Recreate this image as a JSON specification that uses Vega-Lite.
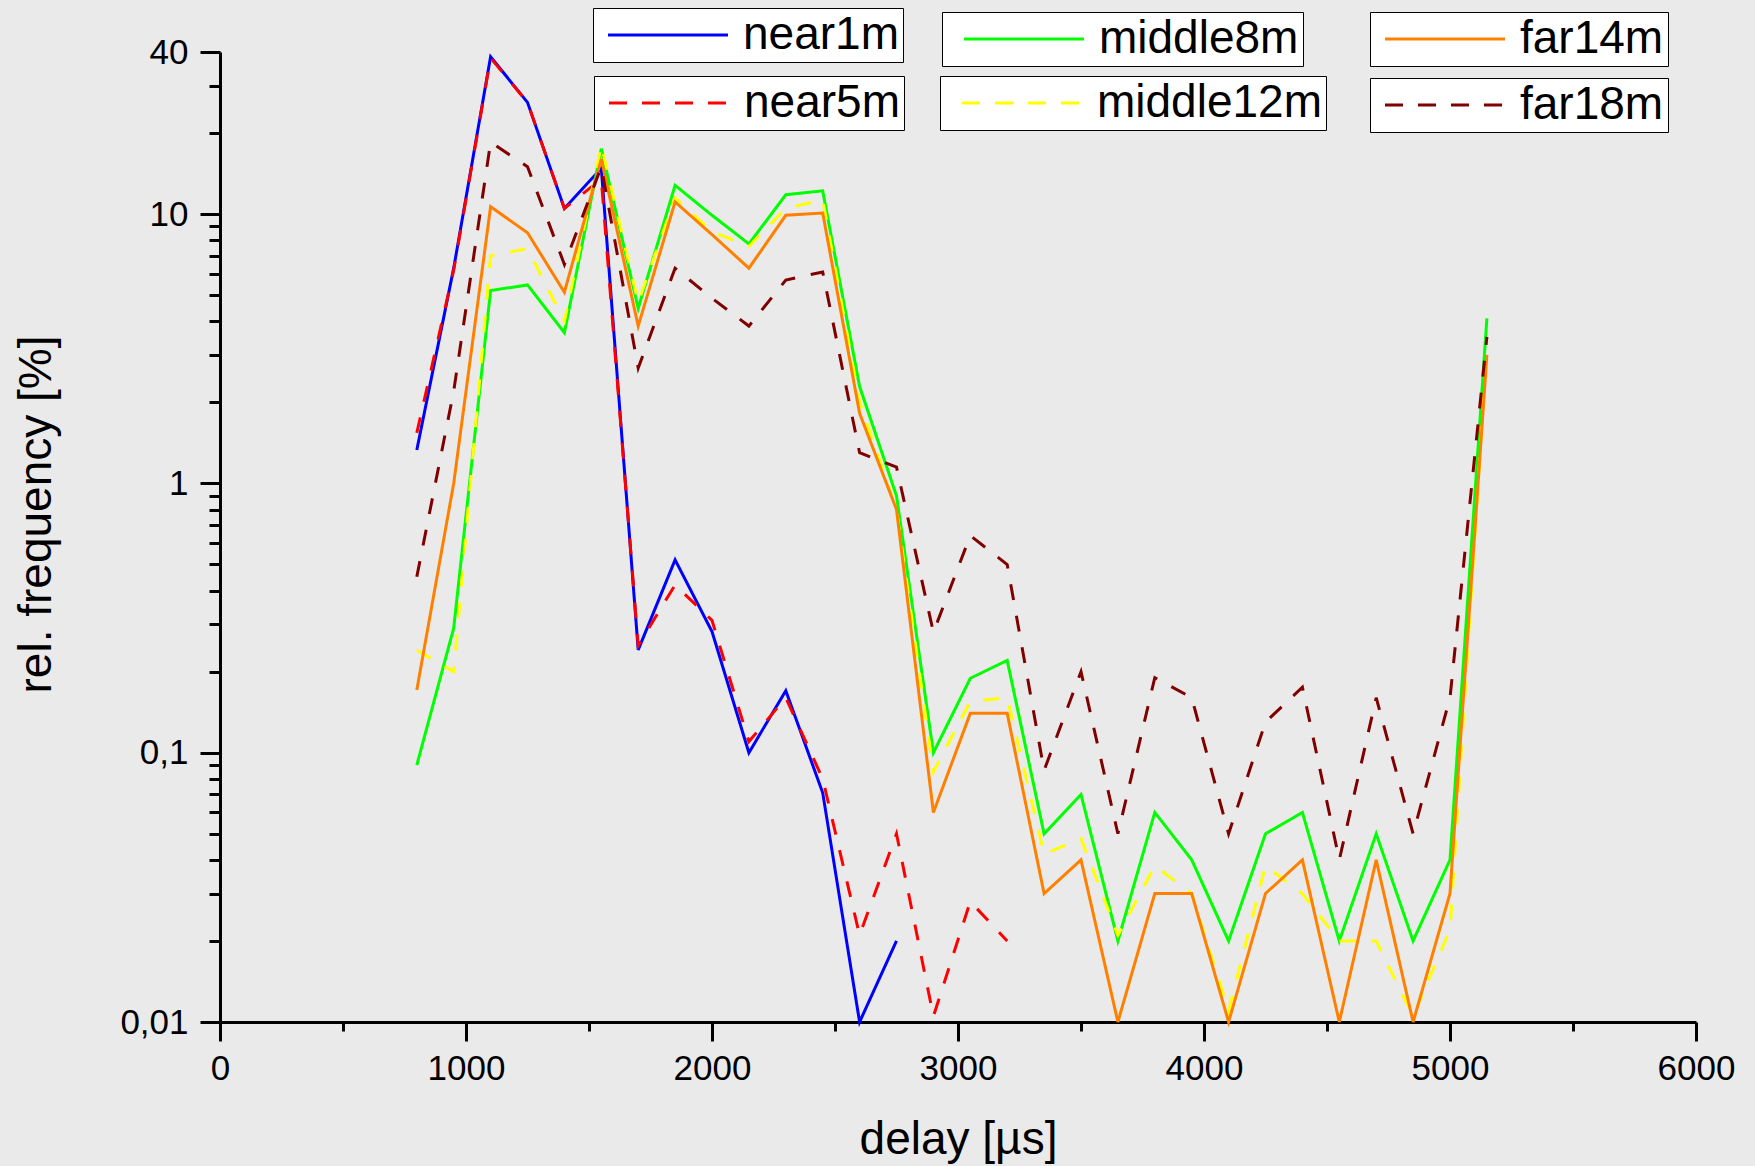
{
  "$schema": "https://vega.github.io/schema/vega-lite/v6.json",
  "width": 1476,
  "height": 970,
  "autosize": {"type": "none"},
  "padding": {"left": 220, "top": 52, "right": 59, "bottom": 144},
  "background": "#EAEAEA",
  "config": {
    "view": {"stroke": null},
    "font": "Liberation Sans",
    "legend": {"title": null, "symbolType": "M-3,0L3,0", "symbolSize": 1600, "symbolStrokeWidth": 3, "labelFont": "Liberation Sans", "labelFontSize": 46, "labelColor": "black", "labelLimit": 400, "fillColor": "white", "strokeColor": "black", "padding": 4, "orient": "none"}
  },
  "data": {
    "values": [
      {"s": "near1m", "d": 800, "v": 1.33}, {"s": "near1m", "d": 950, "v": 6.3}, {"s": "near1m", "d": 1100, "v": 38.4}, {"s": "near1m", "d": 1250, "v": 26}, {"s": "near1m", "d": 1400, "v": 10.5}, {"s": "near1m", "d": 1550, "v": 14.8}, {"s": "near1m", "d": 1700, "v": 0.241}, {"s": "near1m", "d": 1850, "v": 0.52}, {"s": "near1m", "d": 2000, "v": 0.282}, {"s": "near1m", "d": 2150, "v": 0.1}, {"s": "near1m", "d": 2300, "v": 0.17}, {"s": "near1m", "d": 2450, "v": 0.071}, {"s": "near1m", "d": 2600, "v": 0.01}, {"s": "near1m", "d": 2750, "v": 0.02},
      {"s": "near5m", "d": 800, "v": 1.54}, {"s": "near5m", "d": 950, "v": 6.2}, {"s": "near5m", "d": 1100, "v": 38}, {"s": "near5m", "d": 1250, "v": 26}, {"s": "near5m", "d": 1400, "v": 10.5}, {"s": "near5m", "d": 1550, "v": 13.5}, {"s": "near5m", "d": 1700, "v": 0.25}, {"s": "near5m", "d": 1850, "v": 0.42}, {"s": "near5m", "d": 2000, "v": 0.31}, {"s": "near5m", "d": 2150, "v": 0.11}, {"s": "near5m", "d": 2300, "v": 0.16}, {"s": "near5m", "d": 2450, "v": 0.08}, {"s": "near5m", "d": 2600, "v": 0.021}, {"s": "near5m", "d": 2750, "v": 0.05}, {"s": "near5m", "d": 2900, "v": 0.0105}, {"s": "near5m", "d": 3050, "v": 0.028}, {"s": "near5m", "d": 3200, "v": 0.02},
      {"s": "middle8m", "d": 800, "v": 0.09}, {"s": "middle8m", "d": 950, "v": 0.29}, {"s": "middle8m", "d": 1100, "v": 5.2}, {"s": "middle8m", "d": 1250, "v": 5.46}, {"s": "middle8m", "d": 1400, "v": 3.63}, {"s": "middle8m", "d": 1550, "v": 17.5}, {"s": "middle8m", "d": 1700, "v": 4.47}, {"s": "middle8m", "d": 1850, "v": 12.8}, {"s": "middle8m", "d": 2000, "v": 9.9}, {"s": "middle8m", "d": 2150, "v": 7.75}, {"s": "middle8m", "d": 2300, "v": 11.8}, {"s": "middle8m", "d": 2450, "v": 12.2}, {"s": "middle8m", "d": 2600, "v": 2.29}, {"s": "middle8m", "d": 2750, "v": 0.9}, {"s": "middle8m", "d": 2900, "v": 0.1}, {"s": "middle8m", "d": 3050, "v": 0.189}, {"s": "middle8m", "d": 3200, "v": 0.22}, {"s": "middle8m", "d": 3350, "v": 0.05}, {"s": "middle8m", "d": 3500, "v": 0.07}, {"s": "middle8m", "d": 3650, "v": 0.02}, {"s": "middle8m", "d": 3800, "v": 0.06}, {"s": "middle8m", "d": 3950, "v": 0.04}, {"s": "middle8m", "d": 4100, "v": 0.02}, {"s": "middle8m", "d": 4250, "v": 0.05}, {"s": "middle8m", "d": 4400, "v": 0.06}, {"s": "middle8m", "d": 4550, "v": 0.02}, {"s": "middle8m", "d": 4700, "v": 0.05}, {"s": "middle8m", "d": 4850, "v": 0.02}, {"s": "middle8m", "d": 5000, "v": 0.04}, {"s": "middle8m", "d": 5150, "v": 4.1},
      {"s": "middle12m", "d": 800, "v": 0.24}, {"s": "middle12m", "d": 950, "v": 0.2}, {"s": "middle12m", "d": 1100, "v": 7.0}, {"s": "middle12m", "d": 1250, "v": 7.45}, {"s": "middle12m", "d": 1400, "v": 4.0}, {"s": "middle12m", "d": 1550, "v": 18}, {"s": "middle12m", "d": 1700, "v": 4.7}, {"s": "middle12m", "d": 1850, "v": 11.5}, {"s": "middle12m", "d": 2000, "v": 8.6}, {"s": "middle12m", "d": 2150, "v": 7.6}, {"s": "middle12m", "d": 2300, "v": 10.5}, {"s": "middle12m", "d": 2450, "v": 11.3}, {"s": "middle12m", "d": 2600, "v": 2.0}, {"s": "middle12m", "d": 2750, "v": 0.8}, {"s": "middle12m", "d": 2900, "v": 0.085}, {"s": "middle12m", "d": 3050, "v": 0.155}, {"s": "middle12m", "d": 3200, "v": 0.16}, {"s": "middle12m", "d": 3350, "v": 0.042}, {"s": "middle12m", "d": 3500, "v": 0.048}, {"s": "middle12m", "d": 3650, "v": 0.021}, {"s": "middle12m", "d": 3800, "v": 0.038}, {"s": "middle12m", "d": 3950, "v": 0.03}, {"s": "middle12m", "d": 4100, "v": 0.011}, {"s": "middle12m", "d": 4250, "v": 0.038}, {"s": "middle12m", "d": 4400, "v": 0.03}, {"s": "middle12m", "d": 4550, "v": 0.02}, {"s": "middle12m", "d": 4700, "v": 0.02}, {"s": "middle12m", "d": 4850, "v": 0.0105}, {"s": "middle12m", "d": 5000, "v": 0.022}, {"s": "middle12m", "d": 5150, "v": 3.2},
      {"s": "far14m", "d": 800, "v": 0.171}, {"s": "far14m", "d": 950, "v": 1.0}, {"s": "far14m", "d": 1100, "v": 10.65}, {"s": "far14m", "d": 1250, "v": 8.53}, {"s": "far14m", "d": 1400, "v": 5.13}, {"s": "far14m", "d": 1550, "v": 16}, {"s": "far14m", "d": 1700, "v": 3.84}, {"s": "far14m", "d": 1850, "v": 11.1}, {"s": "far14m", "d": 2000, "v": 8.4}, {"s": "far14m", "d": 2150, "v": 6.3}, {"s": "far14m", "d": 2300, "v": 9.9}, {"s": "far14m", "d": 2450, "v": 10.1}, {"s": "far14m", "d": 2600, "v": 1.82}, {"s": "far14m", "d": 2750, "v": 0.8}, {"s": "far14m", "d": 2900, "v": 0.06}, {"s": "far14m", "d": 3050, "v": 0.14}, {"s": "far14m", "d": 3200, "v": 0.14}, {"s": "far14m", "d": 3350, "v": 0.03}, {"s": "far14m", "d": 3500, "v": 0.04}, {"s": "far14m", "d": 3650, "v": 0.01}, {"s": "far14m", "d": 3800, "v": 0.03}, {"s": "far14m", "d": 3950, "v": 0.03}, {"s": "far14m", "d": 4100, "v": 0.01}, {"s": "far14m", "d": 4250, "v": 0.03}, {"s": "far14m", "d": 4400, "v": 0.04}, {"s": "far14m", "d": 4550, "v": 0.01}, {"s": "far14m", "d": 4700, "v": 0.04}, {"s": "far14m", "d": 4850, "v": 0.01}, {"s": "far14m", "d": 5000, "v": 0.03}, {"s": "far14m", "d": 5150, "v": 3.0},
      {"s": "far18m", "d": 800, "v": 0.45}, {"s": "far18m", "d": 950, "v": 2.2}, {"s": "far18m", "d": 1100, "v": 18.5}, {"s": "far18m", "d": 1250, "v": 15}, {"s": "far18m", "d": 1400, "v": 6.5}, {"s": "far18m", "d": 1550, "v": 15}, {"s": "far18m", "d": 1700, "v": 2.68}, {"s": "far18m", "d": 1850, "v": 6.3}, {"s": "far18m", "d": 2000, "v": 4.87}, {"s": "far18m", "d": 2150, "v": 3.84}, {"s": "far18m", "d": 2300, "v": 5.69}, {"s": "far18m", "d": 2450, "v": 6.1}, {"s": "far18m", "d": 2600, "v": 1.3}, {"s": "far18m", "d": 2750, "v": 1.15}, {"s": "far18m", "d": 2900, "v": 0.28}, {"s": "far18m", "d": 3050, "v": 0.64}, {"s": "far18m", "d": 3200, "v": 0.5}, {"s": "far18m", "d": 3350, "v": 0.086}, {"s": "far18m", "d": 3500, "v": 0.2}, {"s": "far18m", "d": 3650, "v": 0.05}, {"s": "far18m", "d": 3800, "v": 0.19}, {"s": "far18m", "d": 3950, "v": 0.16}, {"s": "far18m", "d": 4100, "v": 0.05}, {"s": "far18m", "d": 4250, "v": 0.13}, {"s": "far18m", "d": 4400, "v": 0.175}, {"s": "far18m", "d": 4550, "v": 0.04}, {"s": "far18m", "d": 4700, "v": 0.16}, {"s": "far18m", "d": 4850, "v": 0.05}, {"s": "far18m", "d": 5000, "v": 0.16}, {"s": "far18m", "d": 5150, "v": 3.5}
    ]
  },
  "encoding": {
    "x": {
      "field": "d", "type": "quantitative",
      "scale": {"domain": [0, 6000], "nice": false, "zero": false},
      "axis": {
        "title": "delay [µs]",
        "values": [0, 500, 1000, 1500, 2000, 2500, 3000, 3500, 4000, 4500, 5000, 5500, 6000],
        "labelExpr": "datum.value % 1000 === 0 ? format(datum.value, 'd') : ''",
        "grid": false,
        "domainColor": "black", "domainWidth": 3,
        "tickColor": "black", "tickWidth": 3,
        "tickSize": {"condition": {"test": "datum.value % 1000 === 0", "value": 19}, "value": 9},
        "labelFont": "Liberation Sans", "labelFontSize": 35, "labelColor": "black",
        "labelPadding": 10, "labelFlush": false, "labelOverlap": false,
        "titleFont": "Liberation Sans", "titleFontSize": 46, "titleFontWeight": "normal", "titleColor": "black",
        "titleX": 738, "titleY": 131, "titleBaseline": "alphabetic", "titleAnchor": null, "titleAlign": "center"
      }
    },
    "y": {
      "field": "v", "type": "quantitative",
      "scale": {"type": "log", "domain": [0.01, 40], "nice": false},
      "axis": {
        "title": "rel. frequency [%]",
        "values": [0.01, 0.02, 0.03, 0.04, 0.05, 0.06, 0.07, 0.08, 0.09, 0.1, 0.2, 0.3, 0.4, 0.5, 0.6, 0.7, 0.8, 0.9, 1, 2, 3, 4, 5, 6, 7, 8, 9, 10, 20, 30, 40],
        "labelExpr": "datum.value == 40 ? '40' : datum.value == 10 ? '10' : datum.value == 1 ? '1' : datum.value == 0.1 ? '0,1' : datum.value == 0.01 ? '0,01' : ''",
        "grid": false,
        "domainColor": "black", "domainWidth": 3,
        "tickColor": "black", "tickWidth": 3,
        "tickSize": {"condition": {"test": "datum.value == 40 || datum.value == 10 || datum.value == 1 || datum.value == 0.1 || datum.value == 0.01", "value": 20}, "value": 11},
        "labelFont": "Liberation Sans", "labelFontSize": 35, "labelColor": "black",
        "labelPadding": 12, "labelFlush": false, "labelOverlap": false,
        "titleFont": "Liberation Sans", "titleFontSize": 46, "titleFontWeight": "normal", "titleColor": "black",
        "titleAngle": 270, "titleX": -170, "titleY": 462, "titleBaseline": "alphabetic", "titleAlign": "center", "titleAnchor": null
      }
    }
  },
  "layer": [
    {
      "transform": [{"filter": "datum.s === 'near1m'"}],
      "mark": {"type": "line", "strokeWidth": 3},
      "encoding": {"color": {"field": "s", "type": "nominal", "scale": {"domain": ["near1m"], "range": ["#0000FF"]},
        "legend": {"legendX": 373, "legendY": -44, "symbolOffset": 48, "labelOffset": 52}}}
    },
    {
      "transform": [{"filter": "datum.s === 'near5m'"}],
      "mark": {"type": "line", "strokeWidth": 3, "strokeDash": [16, 16]},
      "encoding": {"color": {"field": "s", "type": "nominal", "scale": {"domain": ["near5m"], "range": ["#FF0000"]},
        "legend": {"legendX": 374, "legendY": 24, "symbolDash": [18, 15], "symbolOffset": 48, "labelOffset": 52}}}
    },
    {
      "transform": [{"filter": "datum.s === 'middle8m'"}],
      "mark": {"type": "line", "strokeWidth": 3},
      "encoding": {"color": {"field": "s", "type": "nominal", "scale": {"domain": ["middle8m"], "range": ["#00FF00"]},
        "legend": {"legendX": 722, "legendY": -40, "symbolOffset": 55, "labelOffset": 52}}}
    },
    {
      "transform": [{"filter": "datum.s === 'middle12m'"}],
      "mark": {"type": "line", "strokeWidth": 3, "strokeDash": [16, 16]},
      "encoding": {"color": {"field": "s", "type": "nominal", "scale": {"domain": ["middle12m"], "range": ["#FFFF00"]},
        "legend": {"legendX": 720, "legendY": 24, "symbolDash": [18, 15], "symbolOffset": 55, "labelOffset": 52}}}
    },
    {
      "transform": [{"filter": "datum.s === 'far14m'"}],
      "mark": {"type": "line", "strokeWidth": 3},
      "encoding": {"color": {"field": "s", "type": "nominal", "scale": {"domain": ["far14m"], "range": ["#FF8000"]},
        "legend": {"legendX": 1150, "legendY": -40, "symbolOffset": 48, "labelOffset": 52}}}
    },
    {
      "transform": [{"filter": "datum.s === 'far18m'"}],
      "mark": {"type": "line", "strokeWidth": 3, "strokeDash": [16, 16]},
      "encoding": {"color": {"field": "s", "type": "nominal", "scale": {"domain": ["far18m"], "range": ["#800000"]},
        "legend": {"legendX": 1150, "legendY": 26, "symbolDash": [18, 15], "symbolOffset": 48, "labelOffset": 52}}}
    }
  ],
  "resolve": {"scale": {"color": "independent"}, "legend": {"color": "independent"}}
}
